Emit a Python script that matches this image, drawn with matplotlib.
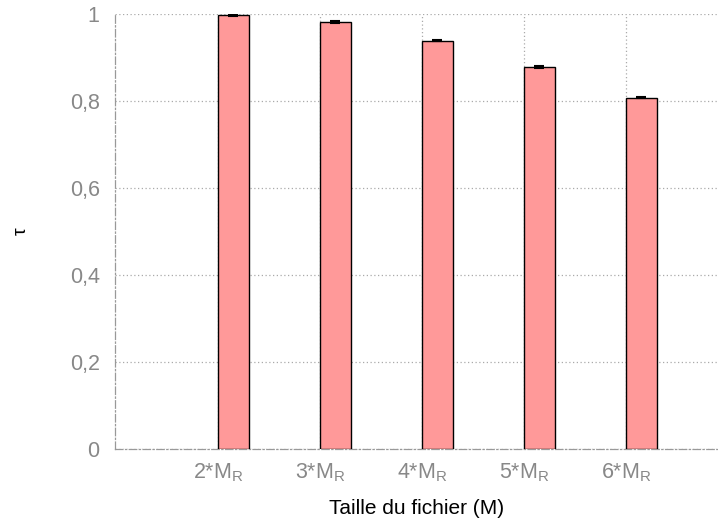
import matplotlib
matplotlib.use("Agg")
import matplotlib.pyplot as plt

plt.rcParams['font.family'] = ['Liberation Sans', 'DejaVu Sans']
plt.rcParams['mathtext.default'] = 'regular'

positions = [2, 3, 4, 5, 6]
categories = ["2*M$_R$", "3*M$_R$", "4*M$_R$", "5*M$_R$", "6*M$_R$"]
values = [0.997, 0.981, 0.939, 0.878, 0.808]
errors = [0.002, 0.002, 0.002, 0.002, 0.002]
yticks = [0, 0.2, 0.4, 0.6, 0.8, 1.0]
ytick_labels = ["0", "0,2", "0,4", "0,6", "0,8", "1"]

fig = plt.figure(figsize=(7.18, 5.22), dpi=100)
ax = fig.add_axes([115/718, 73/522, 603/718, 435/522])

bar_w = 0.30
ax.bar(positions, values, width=bar_w, align='edge', color='#ff9999',
       edgecolor='black', linewidth=1.0, zorder=3)
ax.errorbar([p + bar_w/2 for p in positions], values, yerr=errors, fmt='none',
            ecolor='black', elinewidth=1.5, capsize=3.5, capthick=1.5, zorder=4)

ax.set_xlim(0.99, 6.90)
ax.set_ylim(0, 1.0)
ax.set_xticks(positions)
ax.set_xticklabels(categories)
ax.set_yticks(yticks)
ax.set_yticklabels(ytick_labels)
ax.tick_params(axis='both', length=0, labelsize=15.5, colors='#888888')
ax.tick_params(axis='y', pad=11)
ax.tick_params(axis='x', pad=9)

ax.grid(True, color='#aaaaaa', linestyle=(0, (1, 2)), linewidth=0.9, zorder=0)
ax.set_axisbelow(True)

for s in ['top', 'right']:
    ax.spines[s].set_visible(False)
for s in ['left', 'bottom']:
    ax.spines[s].set_color('#999999')
    ax.spines[s].set_linestyle((0, (6, 2, 1, 2)))
    ax.spines[s].set_linewidth(0.9)

ax.set_xlabel("Taille du fichier (M)", fontsize=15, color='black')
ax.set_ylabel("τ", fontsize=14, color='black')
ax.yaxis.set_label_coords(-94/603, 0.5)
ax.yaxis.label.set_va('center')
ax.xaxis.set_label_coords(0.5, -59/435)
ax.xaxis.label.set_va('center')

fig.savefig("out.png", dpi=100)
